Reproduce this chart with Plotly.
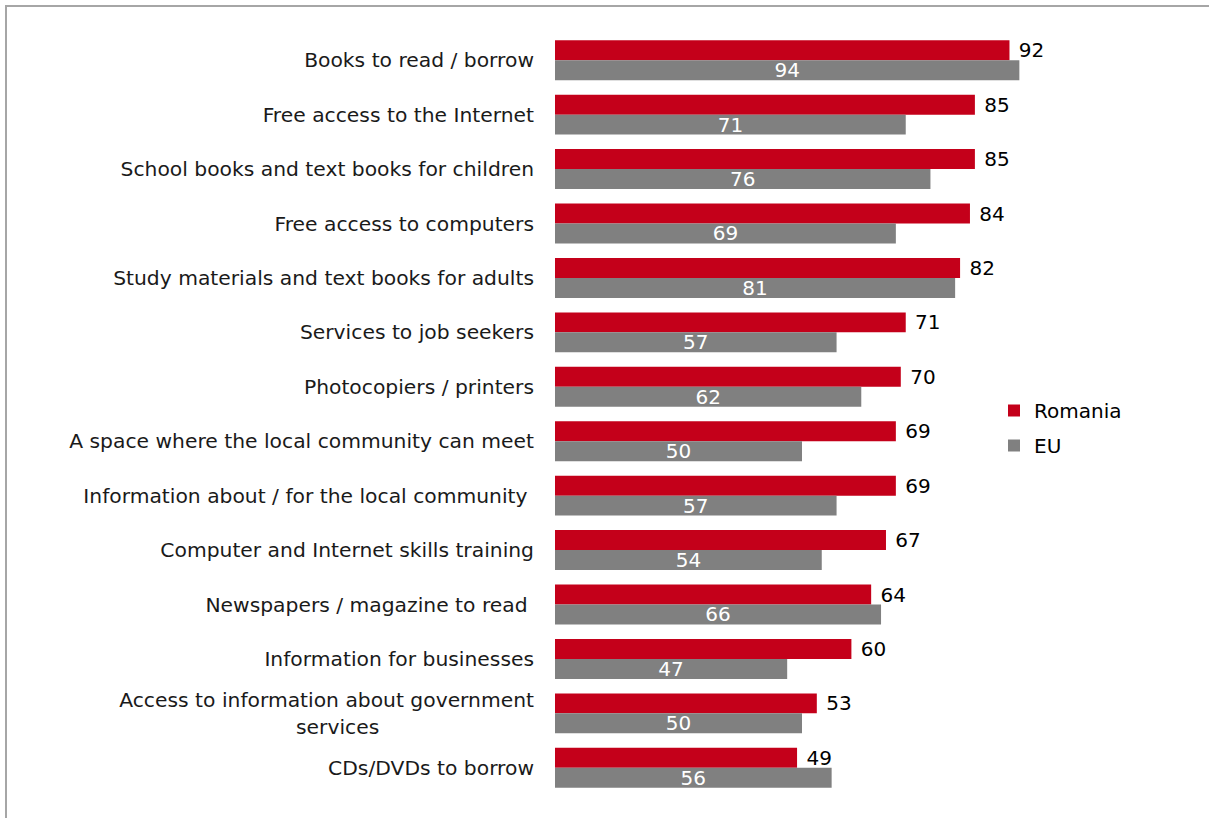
import plotly.graph_objects as go

NB = "\u00a0"
categories = [
    "Books to read / borrow",
    "Free access to the Internet",
    "School books and text books for children",
    "Free access to computers",
    "Study materials and text books for adults",
    "Services to job seekers",
    "Photocopiers / printers",
    "A space where the local community can meet",
    "Information about / for the local community" + NB,
    "Computer and Internet skills training",
    "Newspapers / magazine to read" + NB,
    "Information for businesses",
    "Access to information about government<br>services" + NB * 24,
    "CDs/DVDs to borrow",
]
romania = [92, 85, 85, 84, 82, 71, 70, 69, 69, 67, 64, 60, 53, 49]
eu = [94, 71, 76, 69, 81, 57, 62, 50, 57, 54, 66, 47, 50, 56]

RED = "#C4001A"
GREY = "#808080"
FONT = "DejaVu Sans"

fig = go.Figure()
fig.add_trace(go.Bar(
    y=categories, x=romania, name="Romania", orientation="h",
    legendgroup="ro",
    marker=dict(color=RED, line=dict(width=0)),
    text=[NB + str(v) for v in romania], textposition="outside",
    constraintext="none",
    textfont=dict(family=FONT, size=20, color="#000000"),
    cliponaxis=False,
))
fig.add_trace(go.Bar(
    y=categories, x=eu, name="EU", orientation="h",
    legendgroup="eu",
    marker=dict(color=GREY, line=dict(width=0)),
    text=[str(v) for v in eu], textposition="inside", insidetextanchor="middle",
    constraintext="none",
    textfont=dict(family=FONT, size=20, color="#FFFFFF"),
    cliponaxis=False,
))

L, R, T, B = 555, 160, 33, 23
W, H = 1209, 818
pw, ph = W - L - R, H - T - B

def px_x(x):
    return (x - L) / pw

def px_y(y):
    return 1 - (y - T) / ph

fig.update_layout(
    width=W, height=H,
    margin=dict(l=L, r=R, t=T, b=B),
    barmode="group", bargap=0.266, bargroupgap=0,
    plot_bgcolor="white", paper_bgcolor="white",
    font=dict(family=FONT, size=20, color="#1a1a1a"),
    showlegend=True,
    legend=dict(
        x=px_x(994), y=px_y(391), xanchor="left", yanchor="top",
        font=dict(family=FONT, size=20, color="#000000"),
        itemwidth=30, tracegroupgap=6, bgcolor="rgba(0,0,0,0)",
    ),
    xaxis=dict(range=[0, 100], visible=False, fixedrange=True),
    yaxis=dict(
        autorange="reversed", showline=False, showgrid=False, ticks="",
        ticklabelstandoff=20, tickfont=dict(family=FONT, size=20.3, color="#1a1a1a"),
    ),
)

frame = dict(color="#A6A6A6", width=2)
fig.add_shape(type="line", xref="paper", yref="paper",
              x0=px_x(5), x1=px_x(1209), y0=px_y(6), y1=px_y(6), line=frame)
fig.add_shape(type="line", xref="paper", yref="paper",
              x0=px_x(6), x1=px_x(6), y0=px_y(6), y1=px_y(818), line=frame)

fig.write_html(
    "out.html",
    config={"displayModeBar": False},
    post_script="document.body.style.margin='0px';document.body.style.overflow='hidden';",
)
